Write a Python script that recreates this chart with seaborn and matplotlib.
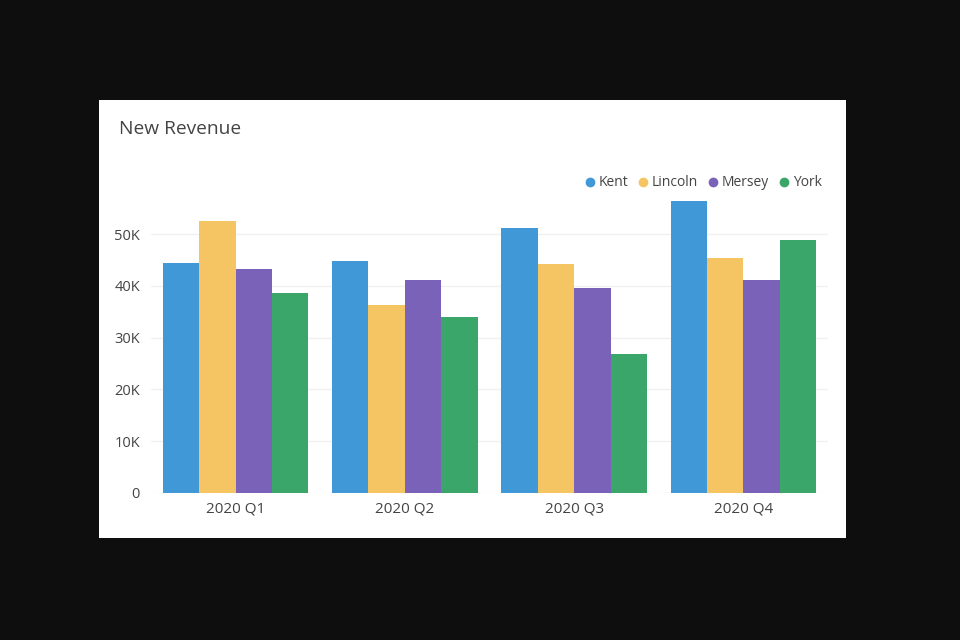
import pandas as pd
import seaborn as sns
import matplotlib
matplotlib.use('Agg')
import matplotlib.pyplot as plt
from matplotlib.patches import Rectangle
from matplotlib.lines import Line2D
from matplotlib.ticker import FuncFormatter

quarters = ['2020 Q1', '2020 Q2', '2020 Q3', '2020 Q4']
regions = ['Kent', 'Lincoln', 'Mersey', 'York']
kent = [44500, 44900, 51200, 56400]
lincoln = [52500, 36400, 44200, 45400]
mersey = [43300, 41100, 39600, 41100]
york = [38700, 34100, 26900, 48800]
colors = ['#4198d7', '#f5c463', '#7b62b9', '#3ba66a']

rows = []
for name, vals in zip(regions, [kent, lincoln, mersey, york]):
    for q, v in zip(quarters, vals):
        rows.append([q, name, v])
df = pd.DataFrame(rows, columns=['Quarter', 'Region', 'Revenue'])

sns.set_theme(style='white')
plt.rcParams['font.family'] = ['Open Sans', 'DejaVu Sans']

fig = plt.figure(figsize=(9.6, 6.4), dpi=100)
fig.patch.set_facecolor('#0e0e0e')

# white card behind the chart
fig.add_artist(Rectangle((99 / 960, 1 - 538 / 640), 747 / 960, 438 / 640,
                         transform=fig.transFigure, facecolor='white',
                         edgecolor='none', zorder=0))

ax = fig.add_axes([151 / 960, 1 - 493 / 640, 677 / 960, 295 / 640])
ax.set_facecolor('none')

sns.barplot(data=df, x='Quarter', y='Revenue', hue='Region', palette=colors,
            width=0.86, saturation=1, ax=ax, legend=False, errorbar=None,
            linewidth=0, zorder=3)

ax.set_ylim(0, 57000)
ax.set_xlim(-0.5, 3.5)
ax.set_yticks([0, 10000, 20000, 30000, 40000, 50000])
ax.yaxis.set_major_formatter(FuncFormatter(lambda v, p: '0' if v == 0 else f'{int(v / 1000)}K'))
ax.grid(axis='y', color='#f0f0f0', linewidth=1, zorder=0)
ax.set_axisbelow(True)
for s in ax.spines.values():
    s.set_visible(False)
ax.set_xlabel('')
ax.set_ylabel('')
ax.tick_params(axis='both', length=0, labelsize=10.5, labelcolor='#444444')
ax.tick_params(axis='y', pad=8)
ax.tick_params(axis='x', labelsize=11, pad=6)

fig.text(119 / 960, 1 - 129 / 640, 'New Revenue', fontsize=13.8, color='#444444',
         va='center', ha='left')

handles = [Line2D([0], [0], marker='o', linestyle='', markersize=6,
                  markerfacecolor=c, markeredgecolor=c) for c in colors]
fig.legend(handles, regions, loc='center right', bbox_to_anchor=(834 / 960, 1 - 183 / 640),
           ncol=4, frameon=False, fontsize=10, labelcolor='#444444',
           handletextpad=0.15, columnspacing=0.55, handlelength=1.0)

plt.savefig('out.png', dpi=100, facecolor=fig.get_facecolor())
